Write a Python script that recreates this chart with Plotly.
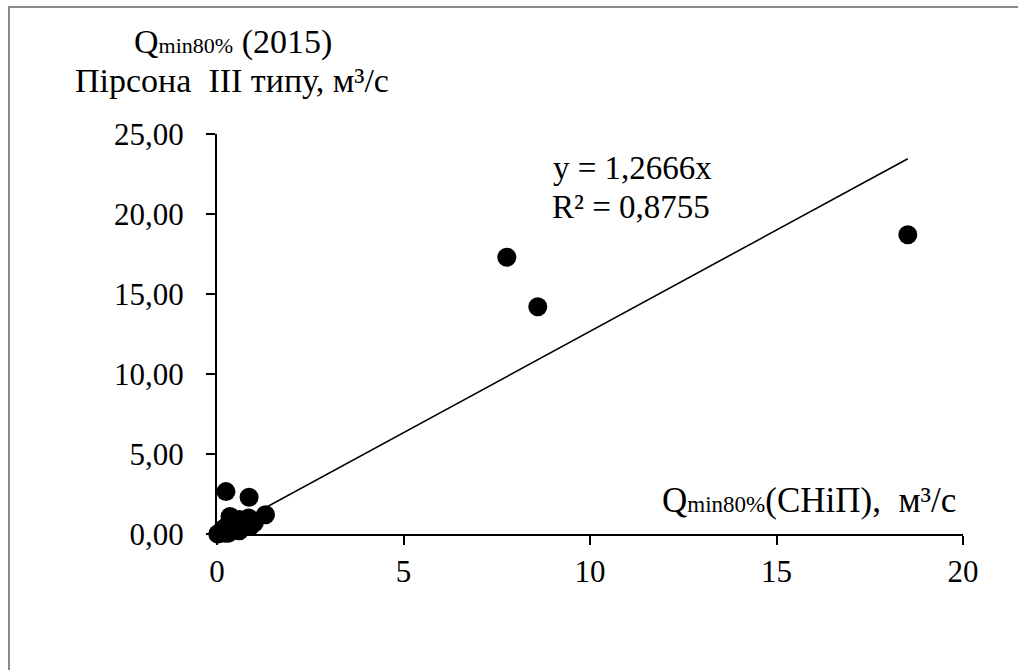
import plotly.graph_objects as go

# Data
x_snip = [0.02, 0.10, 0.15, 0.20, 0.30, 0.30, 0.35, 0.40, 0.50, 0.60, 0.60, 0.70, 0.85, 0.90, 1.00, 1.30, 0.24, 0.86, 7.77, 8.60, 18.52]
y_pearson = [0.00, 0.10, 0.30, 0.05, 0.60, 0.05, 1.10, 0.20, 0.50, 0.90, 0.20, 0.40, 1.00, 0.50, 0.70, 1.20, 2.65, 2.30, 17.30, 14.20, 18.70]
slope = 1.2666
r2 = 0.8755
x_ticks = [0, 5, 10, 15, 20]
y_ticks = [0, 5, 10, 15, 20, 25]

W, H = 1018, 670
L, R, T, B = 217, 963, 134, 534
FONT = "Times New Roman, Liberation Serif, DejaVu Serif, serif"

def px(xp):
    return (xp - L) / (R - L)

def py(yp):
    return (B - yp) / (B - T)

fig = go.Figure()
fig.add_trace(go.Scatter(
    x=x_snip, y=y_pearson, mode="markers", cliponaxis=False,
    marker=dict(color="black", size=19, line=dict(width=0)),
    showlegend=False, hoverinfo="skip"))
xt = [0, max(x_snip)]
fig.add_trace(go.Scatter(
    x=xt, y=[slope * v for v in xt], mode="lines", cliponaxis=False,
    line=dict(color="black", width=1.6),
    showlegend=False, hoverinfo="skip"))

fig.update_layout(
    width=W, height=H,
    margin=dict(l=L, r=W - R, t=T, b=H - B, pad=0),
    paper_bgcolor="white", plot_bgcolor="white",
    separators=", ",
    font=dict(family=FONT, size=31, color="black"),
    xaxis=dict(range=[0, 20], tickvals=x_ticks, showgrid=False, zeroline=False,
               showline=True, linecolor="black", linewidth=2,
               ticks="outside", ticklen=9, tickwidth=2, tickcolor="black",
               tickfont=dict(family=FONT, size=31, color="black"),
               ticklabelstandoff=0),
    yaxis=dict(range=[0, 25], tickvals=y_ticks, tickformat=".2f", showgrid=False, zeroline=False,
               showline=True, linecolor="black", linewidth=2,
               ticks="outside", ticklen=9, tickwidth=2, tickcolor="black",
               tickfont=dict(family=FONT, size=31, color="black"),
               ticklabelstandoff=16),
)

# outer gray border (right and bottom edges outside the view)
fig.add_shape(type="rect", xref="paper", yref="paper",
              x0=px(9), x1=px(1040), y0=py(700), y1=py(7),
              line=dict(color="#8a8a8a", width=2), fillcolor="rgba(0,0,0,0)", layer="below")

small = "<span style='font-size:22px'>min80%</span>"
small_x = "<span style='font-size:23px'>min80%</span>"
anns = [
    (233, 42, "Q" + small + " (2015)", 34),
    (232, 80, "Пірсона  ІІІ типу, м³/с", 34),
    (809, 500, "Q" + small_x + "(СНіП),  м³/с", 35),
    (632, 168, "y = 1,2666x", 33),
    (631, 207, "R² = 0,8755", 33),
]
for xp, yp, txt, fs in anns:
    fig.add_annotation(xref="paper", yref="paper", x=px(xp), y=py(yp),
                       text=txt, showarrow=False, xanchor="center", yanchor="middle",
                       font=dict(family=FONT, size=fs, color="black"))

fig.write_html("out.html")
